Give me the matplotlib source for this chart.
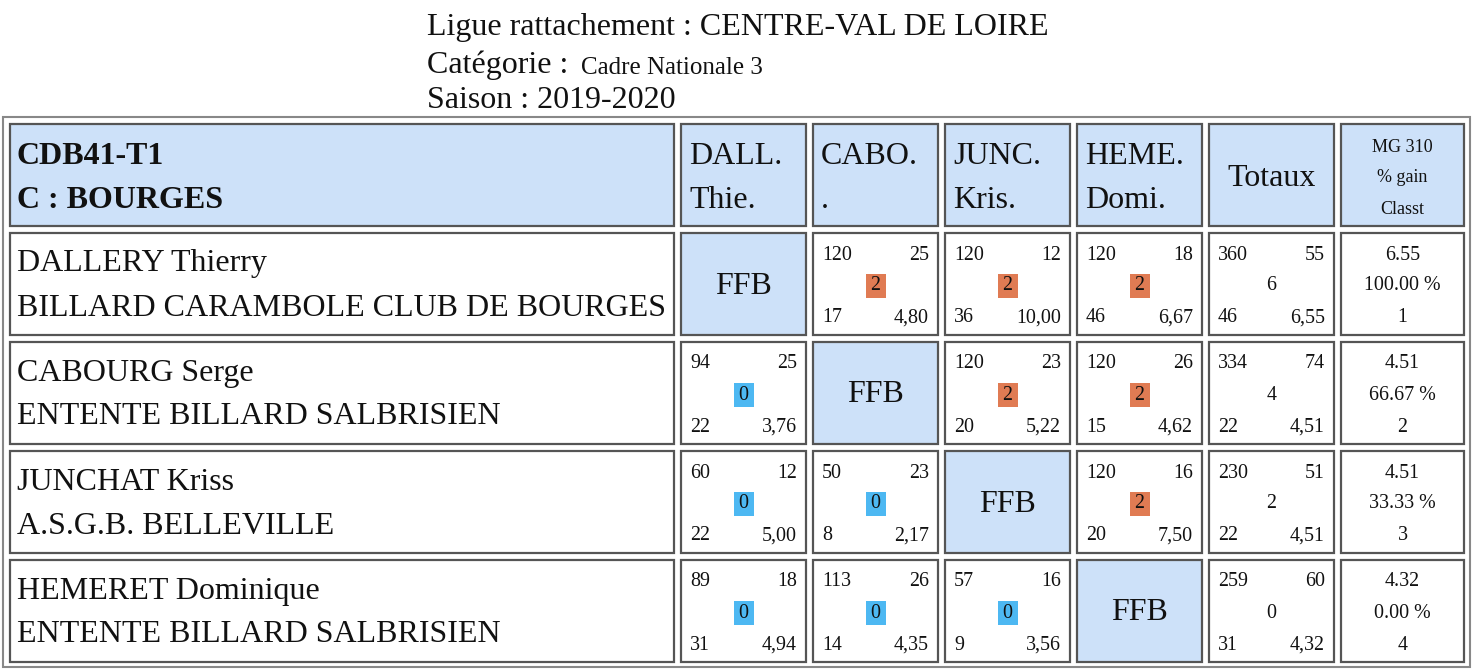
import matplotlib
matplotlib.use("Agg")
import matplotlib.pyplot as plt
from matplotlib.patches import Rectangle

title_lines = ["Ligue rattachement : CENTRE-VAL DE LOIRE", "Catégorie : ", "Saison : 2019-2020"]
category = "Cadre Nationale 3"
group_title = ["CDB41-T1", "C : BOURGES"]
col_heads = [["DALL.", "Thie."], ["CABO.", "."], ["JUNC.", "Kris."], ["HEME.", "Domi."]]
mg_head = ["MG 310", "% gain", "Classt"]
players = ["DALLERY Thierry", "CABOURG Serge", "JUNCHAT Kriss", "HEMERET Dominique"]
clubs = ["BILLARD CARAMBOLE CLUB DE BOURGES", "ENTENTE BILLARD SALBRISIEN",
         "A.S.G.B. BELLEVILLE", "ENTENTE BILLARD SALBRISIEN"]
# per match: points, reprises, result, best serie, average
matches = [
    [None, (120, 25, 2, 17, "4,80"), (120, 12, 2, 36, "10,00"), (120, 18, 2, 46, "6,67")],
    [(94, 25, 0, 22, "3,76"), None, (120, 23, 2, 20, "5,22"), (120, 26, 2, 15, "4,62")],
    [(60, 12, 0, 22, "5,00"), (50, 23, 0, 8, "2,17"), None, (120, 16, 2, 20, "7,50")],
    [(89, 18, 0, 31, "4,94"), (113, 26, 0, 14, "4,35"), (57, 16, 0, 9, "3,56"), None],
]
totals = [(360, 55, 6, 46, "6,55"), (334, 74, 4, 22, "4,51"),
          (230, 51, 2, 22, "4,51"), (259, 60, 0, 31, "4,32")]
mg = ["6.55", "4.51", "4.51", "4.32"]
gain = ["100.00 %", "66.67 %", "33.33 %", "0.00 %"]
rank = ["1", "2", "3", "4"]

W, H = 1473, 671
fig = plt.figure(figsize=(W / 100, H / 100), dpi=100)
ax = fig.add_axes([0, 0, 1, 1])
ax.set_xlim(0, W); ax.set_ylim(H, 0); ax.axis("off")
FONT = "Liberation Serif"
HDR = "#cde1f9"
BIG, SMALL = 32, 20
def pt(px): return px * 0.72
def txt(x, y, s, size, ha="left", bold=False):
    ax.text(x, y + 2, s, fontsize=pt(size), ha=ha, va="center", family=FONT,
            fontweight="bold" if bold else "normal", color="#111")

txt(427, 26, title_lines[0], BIG)
txt(427, 63, title_lines[1], BIG)
txt(581, 66, category, 25)
txt(427, 99, title_lines[2], BIG)

ax.add_patch(Rectangle((3, 117), 1467, 550, fill=False, ec="#888", lw=1.5))
cx = [(10, 674), (681, 806), (813, 938), (945, 1070), (1077, 1202), (1209, 1334), (1341, 1464)]
ry = [(124, 226), (233, 335), (342, 444), (451, 553), (560, 662)]

def cell(c, r, fill="white"):
    x0, x1 = cx[c]; y0, y1 = ry[r]
    ax.add_patch(Rectangle((x0, y0), x1 - x0, y1 - y0, fc=fill, ec="#555", lw=1.6))
    return x0, x1, y0, y1

x0, x1, y0, y1 = cell(0, 0, HDR)
txt(x0 + 7, 154, group_title[0], BIG, bold=True)
txt(x0 + 7, 198, group_title[1], BIG, bold=True)
for j, h in enumerate(col_heads):
    x0, x1, y0, y1 = cell(j + 1, 0, HDR)
    txt(x0 + 8, 154, h[0], BIG); txt(x0 + 8, 198, h[1], BIG)
x0, x1, y0, y1 = cell(5, 0, HDR)
txt((x0 + x1) / 2, 176, "Totaux", BIG, ha="center")
x0, x1, y0, y1 = cell(6, 0, HDR)
for k, s in enumerate(mg_head):
    txt((x0 + x1) / 2, 145 + 31 * k, s, 18, ha="center")

def small_block(x0, x1, y0, vals, boxed=True):
    p, rep, res, ser, avg = vals
    txt(x0 + 9, y0 + 20, str(p), SMALL)
    txt(x1 - 9, y0 + 20, str(rep), SMALL, ha="right")
    xc = (x0 + x1) / 2
    if boxed:
        col = "#e07b53" if res == 2 else "#4db8f2"
        ax.add_patch(Rectangle((xc - 10, y0 + 41), 20, 24, fc=col, ec="none"))
    txt(xc, y0 + 51, str(res), SMALL, ha="center")
    txt(x0 + 9, y0 + 83, str(ser), SMALL)
    txt(x1 - 9, y0 + 83, avg, SMALL, ha="right")

for i in range(4):
    r = i + 1
    x0, x1, y0, y1 = cell(0, r)
    txt(x0 + 7, y0 + 29, players[i], BIG)
    txt(x0 + 7, y0 + 73, clubs[i], BIG)
    for j in range(4):
        if matches[i][j] is None:
            x0, x1, y0, y1 = cell(j + 1, r, HDR)
            txt((x0 + x1) / 2, (y0 + y1) / 2, "FFB", BIG, ha="center")
        else:
            x0, x1, y0, y1 = cell(j + 1, r)
            small_block(x0, x1, y0, matches[i][j])
    x0, x1, y0, y1 = cell(5, r)
    small_block(x0, x1, y0, totals[i], boxed=False)
    x0, x1, y0, y1 = cell(6, r)
    xc = (x0 + x1) / 2
    txt(xc, y0 + 20, mg[i], SMALL, ha="center")
    txt(xc, y0 + 51, gain[i], SMALL, ha="center")
    txt(xc, y0 + 83, rank[i], SMALL, ha="center")

fig.savefig("out.png", dpi=100)
